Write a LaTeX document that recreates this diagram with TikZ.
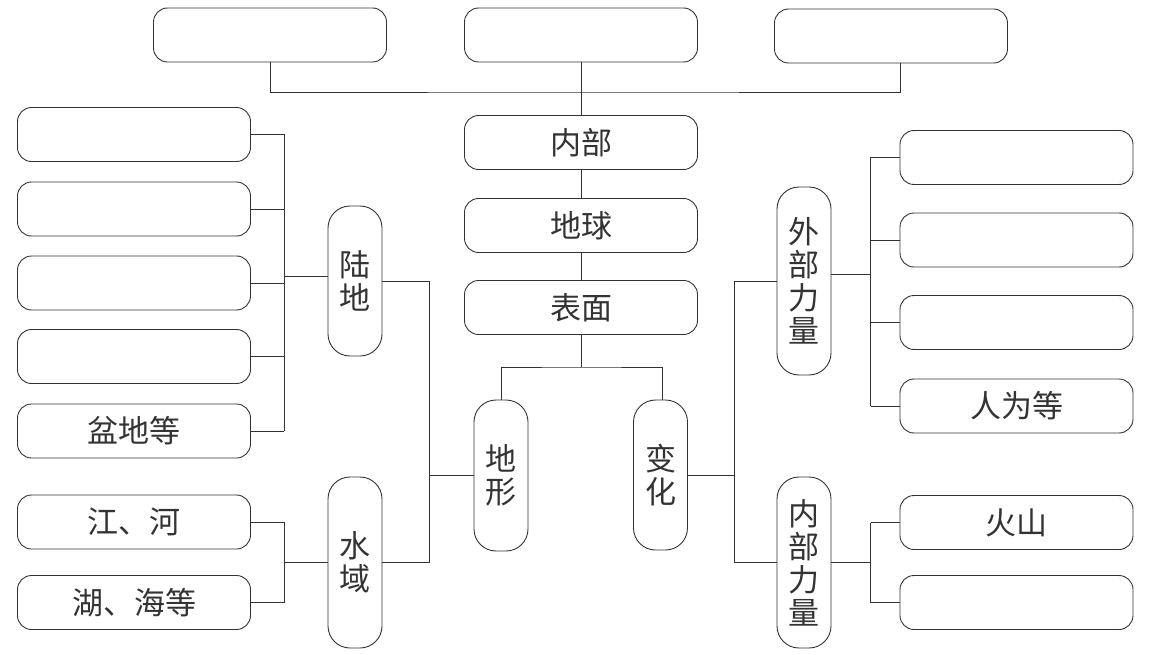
\documentclass[tikz,border=0pt]{standalone}
\usepackage{fontspec}
\newfontfamily\cjk{Noto Sans CJK SC}
\begin{document}
\begin{tikzpicture}[x=1pt,y=-1pt,line width=0.9pt,color=black!80,
  box/.style={draw,rounded corners=14pt,minimum width=233pt,minimum height=54pt,inner sep=0pt,font=\cjk\fontsize{31pt}{33pt}\selectfont},
  vbox/.style={draw,rounded corners=22pt,minimum width=54pt,inner sep=0pt,align=center,font=\cjk\fontsize{31pt}{33pt}\selectfont}]
\useasboundingbox (0,0) rectangle (1153,655);
% top row and centre column
\node [box] (t1) at (270,35) {};
\node [box] (t2) at (581,35) {};
\node [box] (t3) at (891,36) {};
\node [box] (inner) at (581,142.5) {内部};
\node [box] (earth) at (581,225.5) {地球};
\node [box] (surf) at (581,307.5) {表面};
\node [vbox,minimum height=151pt] (terrain) at (501,475.5) {地\\形};
\node [vbox,minimum height=150pt] (change) at (660.5,475) {变\\化};
% left side
\node [vbox,minimum height=150pt] (land) at (355,281) {陆\\地};
\node [vbox,minimum height=171pt] (water) at (355,562.5) {水\\域};
\foreach \n/\y/\t in {l1/134.5/{},l2/209/{},l3/283/{},l4/356.5/{},l5/431/{盆地等},w1/522/{江、河},w2/602.5/{湖、海等}}
  \node [box] (\n) at (134,\y) {\t};
% right side
\node [vbox,minimum height=188pt] (outer) at (804,281) {外\\部\\力\\量};
\node [vbox,minimum height=171pt] (inforce) at (804,562.5) {内\\部\\力\\量};
\foreach \n/\y/\t in {r1/157.5/{},r2/240/{},r3/322.5/{},r4/406/{人为等},r5/522.5/{火山},r6/602.5/{}}
  \node [box] (\n) at (1016.5,\y) {\t};
% bus lines
\coordinate (lbus) at ([xshift=33pt]l1.east);
\coordinate (rbus) at ([xshift=-29pt]r1.west);
% connectors
\draw (t1.south) |- (581,92) -| ([xshift=9pt]t3.south);
\draw (t2) -- (inner) -- (earth) -- (surf);
\coordinate (jc) at (581,367);
\draw (surf) -- (jc);
\draw (terrain.north) |- (jc) -| ([xshift=2pt]change.north);
\draw (terrain.west) -- ++(-44,0);
\draw (land.east) -| ([xshift=-44pt]terrain.west) |- (water.east);
\draw (change.east) -- ++(46,0);
\draw (outer.west) -| ([xshift=46pt]change.east) |- (inforce.west);
\foreach \n in {l1,l2,l3,l4,l5,w1,w2}
  \draw (\n.east) -- (\n.east -| lbus);
\draw (lbus) -- (lbus |- l5.east);
\draw (lbus |- w1.east) -- (lbus |- w2.east);
\draw ([yshift=5pt]land.west) -- ([yshift=5pt]land.west -| lbus);
\draw (water.west) -- (water.west -| lbus);
\foreach \n in {r1,r2,r3,r4,r5,r6}
  \draw (\n.west) -- (\n.west -| rbus);
\draw (rbus) -- (rbus |- r4.west);
\draw (rbus |- r5.west) -- (rbus |- r6.west);
\draw ([yshift=7pt]outer.east) -- ([yshift=7pt]outer.east -| rbus);
\draw (inforce.east) -- (inforce.east -| rbus);
\end{tikzpicture}
\end{document}
